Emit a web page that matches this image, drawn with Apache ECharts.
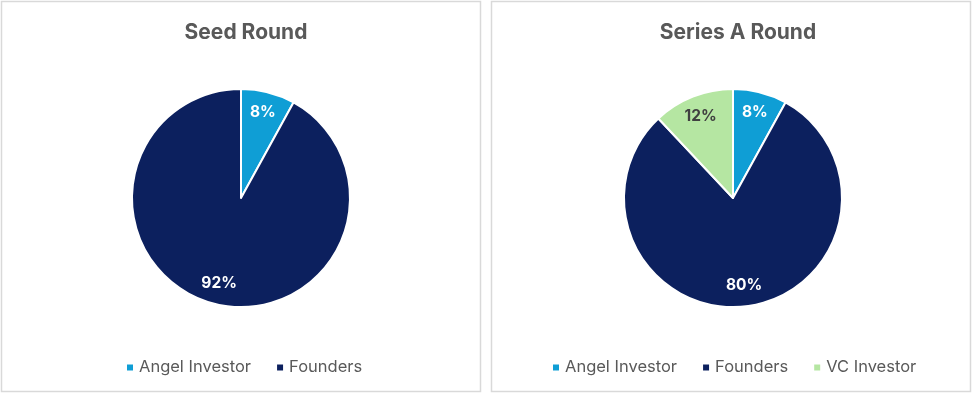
<!DOCTYPE html>
<html><head><meta charset="utf-8">
<script src="https://cdn.jsdelivr.net/npm/echarts@6/dist/echarts.min.js"></script>
<style>html,body{margin:0;padding:0;background:#fff}#c{width:974px;height:395px}</style>
</head><body><div id="c"></div>
<script>
const categories = ['Angel Investor', 'Founders', 'VC Investor'];
const seedCategories = ['Angel Investor', 'Founders'];
const seedValues = [8, 92];
const seriesACategories = ['Angel Investor', 'Founders', 'VC Investor'];
const seriesAValues = [8, 80, 12];
const titles = ['Seed Round', 'Series A Round'];

const colorMap = {'Angel Investor': '#0f9ed5', 'Founders': '#0c205e', 'VC Investor': '#b5e6a2'};
const labelColorMap = {'Angel Investor': '#ffffff', 'Founders': '#ffffff', 'VC Investor': '#404040'};
const FONT = 'Inter, "Noto Sans", sans-serif';

function mkData(names, vals) {
  return names.map((n, i) => ({name: n, value: vals[i], itemStyle: {color: colorMap[n]}}));
}
function mkLabelData(names, vals) {
  return names.map((n, i) => ({name: n, value: vals[i], label: {color: labelColorMap[n]}}));
}
function pies(names, vals, cx) {
  return [
    {type: 'pie', center: [cx, 198], radius: 109, startAngle: 90, clockwise: true,
     data: mkData(names, vals), label: {show: false}, labelLine: {show: false},
     itemStyle: {borderColor: '#ffffff', borderWidth: 2}, emphasis: {disabled: true}, animation: false},
    {type: 'pie', center: [cx, 198], radius: [62, 108], startAngle: 90, clockwise: true, silent: true,
     data: mkLabelData(names, vals), itemStyle: {color: 'rgba(0,0,0,0)'}, labelLine: {show: false},
     label: {show: true, position: 'inside', formatter: '{c}%', fontFamily: FONT, fontWeight: 'bold', fontSize: 15.5},
     emphasis: {disabled: true}, animation: false, legendHoverLink: false}
  ];
}

const chart = echarts.init(document.getElementById('c'), null, {renderer: 'canvas'});
chart.setOption({
  animation: false,
  color: categories.map(c => colorMap[c]),
  graphic: [
    {type: 'rect', shape: {x: 1.5, y: 1.5, width: 479, height: 390}, style: {fill: '#fff', stroke: '#d9d9d9', lineWidth: 1.5}, z: -10},
    {type: 'rect', shape: {x: 491.5, y: 1.5, width: 479, height: 390}, style: {fill: '#fff', stroke: '#d9d9d9', lineWidth: 1.5}, z: -10}
  ],
  title: [
    {text: titles[0], left: 241, top: 17, textAlign: 'center', textStyle: {fontFamily: FONT, fontWeight: 'bold', fontSize: 21, color: '#595959'}},
    {text: titles[1], left: 733, top: 17, textAlign: 'center', textStyle: {fontFamily: FONT, fontWeight: 'bold', fontSize: 21, color: '#595959'}}
  ],
  legend: [
    {data: seedCategories, top: 354, itemWidth: 8, itemHeight: 8, itemGap: 24, icon: 'rect',
     textStyle: {fontFamily: FONT, fontSize: 16.5, color: '#595959'}, left: 120, selectedMode: false},
    {data: seriesACategories, top: 354, itemWidth: 8, itemHeight: 8, itemGap: 24, icon: 'rect',
     textStyle: {fontFamily: FONT, fontSize: 16.5, color: '#595959'}, left: 546, selectedMode: false}
  ],
  series: [...pies(seedCategories, seedValues, 241), ...pies(seriesACategories, seriesAValues, 733)]
});
</script></body></html>
